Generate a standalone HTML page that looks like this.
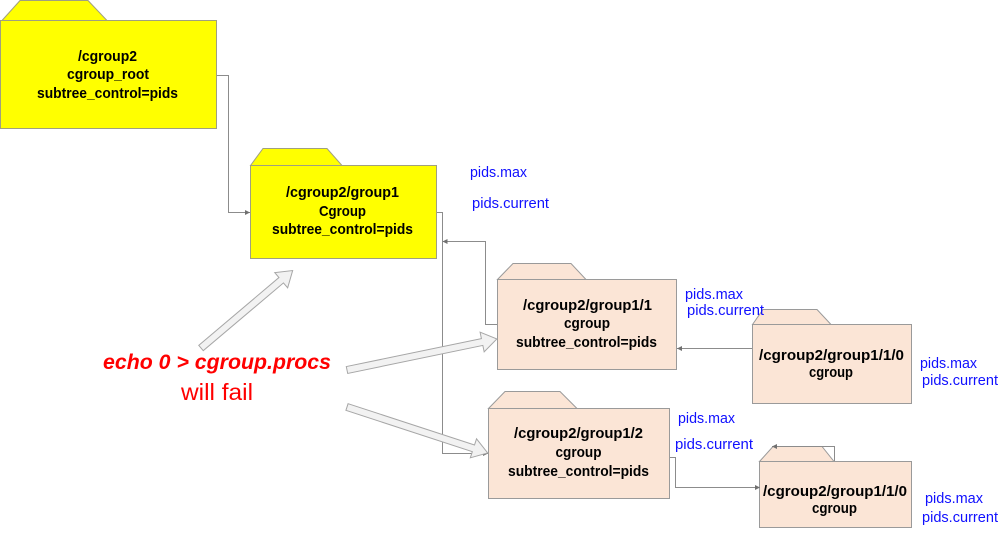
<!DOCTYPE html>
<html><head><meta charset="utf-8"><style>
html,body{margin:0;padding:0;background:#fff;}
svg{display:block;}
.b{font-family:"Liberation Sans",sans-serif;font-weight:bold;font-size:15px;fill:#000;}
.p{font-family:"Liberation Sans",sans-serif;font-size:15px;fill:#1010ff;}
.ln{fill:none;stroke:#8c8c8c;stroke-width:1;}
.y{fill:#ffff00;stroke:#a0a080;stroke-width:1;}
.o{fill:#fbe5d6;stroke:#9a9a9a;stroke-width:1;}
.ba{fill:#f2f2f2;stroke:#a6a6a6;stroke-width:1;}
</style></head><body>
<svg width="1000" height="537" viewBox="0 0 1000 537" xmlns="http://www.w3.org/2000/svg">
<defs>
<marker id="ah" markerUnits="userSpaceOnUse" markerWidth="6" markerHeight="6" refX="5" refY="3" orient="auto">
<path d="M0,0.5 L5,3 L0,5.5 Z" fill="#707070"/>
</marker>
</defs>

<!-- root folder -->
<polygon class="y" points="2,20.5 20,0.5 88,0.5 107,20.5"/>
<rect class="y" x="0.5" y="20.5" width="216" height="108"/>
<text class="b" x="107.5" y="61" text-anchor="middle" textLength="59" lengthAdjust="spacingAndGlyphs">/cgroup2</text>
<text class="b" x="108" y="79" text-anchor="middle" textLength="82" lengthAdjust="spacingAndGlyphs">cgroup_root</text>
<text class="b" x="107.5" y="98" text-anchor="middle" textLength="141" lengthAdjust="spacingAndGlyphs">subtree_control=pids</text>

<!-- group1 folder -->
<polygon class="y" points="250.5,165.5 263,148.5 327,148.5 342,165.5"/>
<rect class="y" x="250.5" y="165.5" width="186" height="93"/>
<text class="b" x="342.5" y="197" text-anchor="middle" textLength="113" lengthAdjust="spacingAndGlyphs">/cgroup2/group1</text>
<text class="b" x="342.5" y="216" text-anchor="middle" textLength="47" lengthAdjust="spacingAndGlyphs">Cgroup</text>
<text class="b" x="342.5" y="234" text-anchor="middle" textLength="141" lengthAdjust="spacingAndGlyphs">subtree_control=pids</text>
<text class="p" x="470" y="177" textLength="57" lengthAdjust="spacingAndGlyphs">pids.max</text>
<text class="p" x="472" y="208" textLength="77" lengthAdjust="spacingAndGlyphs">pids.current</text>

<!-- group1/1 folder -->
<polygon class="o" points="497.5,279.5 513,263.5 571,263.5 586,279.5"/>
<rect class="o" x="497.5" y="279.5" width="179" height="90"/>
<text class="b" x="587.5" y="310" text-anchor="middle" textLength="129" lengthAdjust="spacingAndGlyphs">/cgroup2/group1/1</text>
<text class="b" x="587" y="328" text-anchor="middle" textLength="46" lengthAdjust="spacingAndGlyphs">cgroup</text>
<text class="b" x="586.5" y="347" text-anchor="middle" textLength="141" lengthAdjust="spacingAndGlyphs">subtree_control=pids</text>
<text class="p" x="685" y="299" textLength="58" lengthAdjust="spacingAndGlyphs">pids.max</text>

<!-- group1/2 folder -->
<polygon class="o" points="488.5,408.5 505,391.5 560,391.5 577,408.5"/>
<rect class="o" x="488.5" y="408.5" width="181" height="90"/>
<text class="b" x="578.5" y="438" text-anchor="middle" textLength="129" lengthAdjust="spacingAndGlyphs">/cgroup2/group1/2</text>
<text class="b" x="578.5" y="457" text-anchor="middle" textLength="46" lengthAdjust="spacingAndGlyphs">cgroup</text>
<text class="b" x="578.5" y="476" text-anchor="middle" textLength="141" lengthAdjust="spacingAndGlyphs">subtree_control=pids</text>
<text class="p" x="678" y="423" textLength="57" lengthAdjust="spacingAndGlyphs">pids.max</text>
<text class="p" x="675" y="449" textLength="78" lengthAdjust="spacingAndGlyphs">pids.current</text>

<!-- group1/1/0 top -->
<polygon class="o" points="752.5,324.5 763,309.5 817,309.5 831,324.5"/>
<rect class="o" x="752.5" y="324.5" width="159" height="79"/>
<text class="b" x="831.5" y="360" text-anchor="middle" textLength="145" lengthAdjust="spacingAndGlyphs">/cgroup2/group1/1/0</text>
<text class="b" x="831" y="377" text-anchor="middle" textLength="44" lengthAdjust="spacingAndGlyphs">cgroup</text>
<text class="p" x="920" y="368" textLength="57" lengthAdjust="spacingAndGlyphs">pids.max</text>
<text class="p" x="922" y="385" textLength="76" lengthAdjust="spacingAndGlyphs">pids.current</text>

<text class="p" x="687" y="315" textLength="77" lengthAdjust="spacingAndGlyphs">pids.current</text>

<!-- group1/1/0 lower -->
<polygon class="o" points="759.5,461.5 773,446.5 822,446.5 834,461.5"/>
<rect class="o" x="759.5" y="461.5" width="152" height="66"/>
<text class="b" x="835" y="496" text-anchor="middle" textLength="144" lengthAdjust="spacingAndGlyphs">/cgroup2/group1/1/0</text>
<text class="b" x="834.5" y="513" text-anchor="middle" textLength="45" lengthAdjust="spacingAndGlyphs">cgroup</text>
<text class="p" x="925" y="503" textLength="58" lengthAdjust="spacingAndGlyphs">pids.max</text>
<text class="p" x="922" y="522" textLength="76" lengthAdjust="spacingAndGlyphs">pids.current</text>

<!-- connectors -->
<polyline class="ln" points="217,75.5 228.5,75.5 228.5,212.5 250,212.5" marker-end="url(#ah)"/>
<polyline class="ln" points="437,212.5 442.5,212.5 442.5,453.5 488,453.5" marker-end="url(#ah)"/>
<polyline class="ln" points="497,324.5 485.5,324.5 485.5,241.5 442.5,241.5" marker-end="url(#ah)"/>
<polyline class="ln" points="752,348.5 677,348.5" marker-end="url(#ah)"/>
<polyline class="ln" points="670,457.5 675.5,457.5 675.5,487.5 760,487.5" marker-end="url(#ah)"/>
<polyline class="ln" points="834.5,461 834.5,446.5 772,446.5" marker-end="url(#ah)"/>

<!-- block arrows -->
<g transform="translate(201,348) rotate(-40.2)">
<polygon class="ba" points="0,-3.5 105,-3.5 105,-10 120,0 105,10 105,3.5 0,3.5"/>
</g>
<g transform="translate(347,370) rotate(-11.7)">
<polygon class="ba" points="0,-3.5 138,-3.5 138,-10 153,0 138,10 138,3.5 0,3.5"/>
</g>
<g transform="translate(347,407) rotate(18.1)">
<polygon class="ba" points="0,-3.5 133,-3.5 133,-10 148,0 133,10 133,3.5 0,3.5"/>
</g>

<!-- red text -->
<text x="103" y="369" font-family="Liberation Sans, sans-serif" font-weight="bold" font-style="italic" font-size="21" fill="#ff0000" textLength="228" lengthAdjust="spacingAndGlyphs">echo 0 &gt; cgroup.procs</text>
<text x="181" y="400" font-family="Liberation Sans, sans-serif" font-size="23" fill="#ff0000" textLength="72" lengthAdjust="spacingAndGlyphs">will fail</text>
</svg>
</body></html>
